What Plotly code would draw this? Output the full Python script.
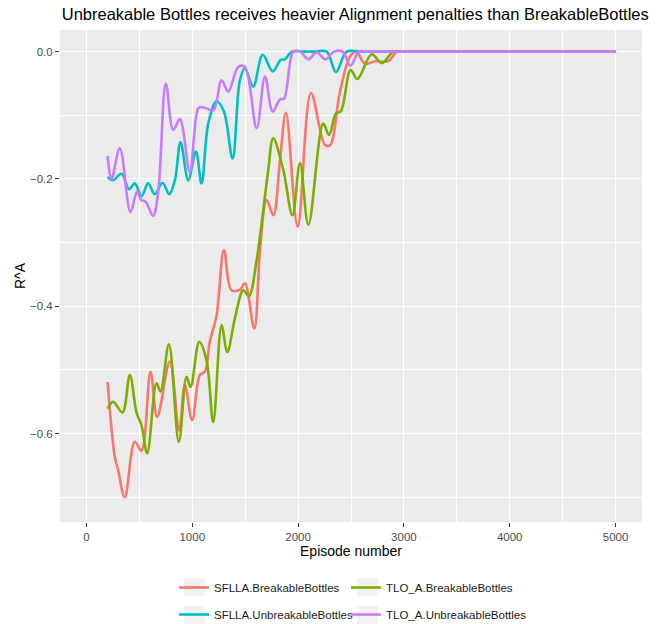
import plotly.graph_objects as go

# ---------------- data ----------------
series_names = [
    "SFLLA.BreakableBottles",
    "SFLLA.UnbreakableBottles",
    "TLO_A.BreakableBottles",
    "TLO_A.UnbreakableBottles",
]

ep_sflla_breakable = [200, 268, 300, 362, 457, 520, 605, 668, 788, 876, 930, 999, 1072, 1119,
                      1166, 1229, 1299, 1371, 1450, 1497, 1586, 1640, 1703, 1766, 1829, 1885,
                      1996, 2122, 2255, 2302, 2396, 2490, 2548, 2633, 2727, 2853, 2932, 3000,
                      3500, 4000, 4500, 5000]
ra_sflla_breakable = [-0.519, -0.637, -0.658, -0.700, -0.613, -0.627, -0.503, -0.574, -0.487,
                      -0.595, -0.524, -0.579, -0.508, -0.503, -0.455, -0.415, -0.312, -0.375,
                      -0.374, -0.364, -0.435, -0.312, -0.233, -0.257, -0.170, -0.096, -0.275,
                      -0.065, -0.147, -0.147, -0.063, -0.008, 0.0, -0.019, -0.015, -0.015, 0.0,
                      0.0, 0.0, 0.0, 0.0, 0.0]

ep_sflla_unbreakable = [200, 252, 330, 403, 457, 520, 583, 646, 719, 782, 836, 889, 962, 1034,
                        1088, 1151, 1229, 1299, 1381, 1450, 1497, 1576, 1665, 1760, 1835, 1876,
                        1939, 2050, 2150, 2270, 2358, 2459, 2600, 3000, 3500, 4000, 4500, 5000]
ra_sflla_unbreakable = [-0.197, -0.202, -0.192, -0.216, -0.207, -0.227, -0.207, -0.224, -0.206,
                        -0.224, -0.202, -0.142, -0.202, -0.157, -0.207, -0.113, -0.078, -0.094,
                        -0.168, -0.045, -0.026, -0.055, -0.005, -0.031, -0.013, -0.012, 0.0,
                        0.0, 0.0, 0.0, -0.032, 0.0, 0.0, 0.0, 0.0, 0.0, 0.0, 0.0]

ep_tlo_breakable = [200, 252, 340, 410, 473, 520, 574, 662, 700, 779, 873, 946, 984, 1066, 1135,
                    1198, 1277, 1331, 1403, 1482, 1535, 1608, 1671, 1718, 1765, 1860, 1946, 2018,
                    2097, 2238, 2292, 2358, 2403, 2497, 2560, 2696, 2791, 2901, 3000, 3500, 4000,
                    4500, 5000]
ra_tlo_breakable = [-0.561, -0.550, -0.567, -0.508, -0.567, -0.587, -0.631, -0.521, -0.534,
                    -0.460, -0.613, -0.511, -0.527, -0.456, -0.485, -0.582, -0.430, -0.472,
                    -0.419, -0.375, -0.384, -0.328, -0.249, -0.186, -0.136, -0.186, -0.257,
                    -0.175, -0.272, -0.113, -0.131, -0.097, -0.094, -0.029, -0.043, -0.004,
                    -0.018, 0.0, 0.0, 0.0, 0.0, 0.0, 0.0]

ep_tlo_unbreakable = [200, 236, 315, 416, 479, 518, 560, 630, 678, 750, 820, 883, 977, 1056,
                      1090, 1128, 1200, 1277, 1340, 1435, 1497, 1608, 1687, 1760, 1829, 1867,
                      1955, 2020, 2097, 2175, 2260, 2340, 2420, 2495, 2575, 2650, 3000, 3500,
                      4000, 4500, 5000]
ra_tlo_unbreakable = [-0.164, -0.200, -0.152, -0.252, -0.220, -0.233, -0.236, -0.258, -0.220,
                      -0.050, -0.123, -0.106, -0.189, -0.089, -0.087, -0.089, -0.092, -0.045,
                      -0.063, -0.024, -0.024, -0.120, -0.039, -0.094, -0.075, -0.074, 0.0,
                      0.0, -0.012, -0.001, -0.012, 0.0, 0.0, -0.022, 0.0, 0.0, 0.0, 0.0,
                      0.0, 0.0, 0.0]

x_tick_vals = [0, 1000, 2000, 3000, 4000, 5000]
x_tick_text = ["0", "1000", "2000", "3000", "4000", "5000"]
y_tick_vals = [0.0, -0.2, -0.4, -0.6]
y_tick_text = ["0.0", "\u22120.2", "\u22120.4", "\u22120.6"]

title_text = "Unbreakable Bottles receives heavier Alignment penalties than BreakableBottles"
x_title = "Episode number"
y_title = "R^A"

# ---------------- styling / layout ----------------
colors = ["#F8766D", "#00BFC4", "#7CAE00", "#C77CFF"]
legend_of = ["legend", "legend", "legend2", "legend2"]
FONT = "Liberation Sans, Arial, Helvetica, sans-serif"

W, H = 662, 624
ML, MR, MT, MB = 60, 20, 30, 102
PW, PH = W - ML - MR, H - MT - MB


def px_x(px):
    return (px - ML) / PW


def px_y(py):
    return (H - MB - py) / PH


xs = [ep_sflla_breakable, ep_sflla_unbreakable, ep_tlo_breakable, ep_tlo_unbreakable]
ys = [ra_sflla_breakable, ra_sflla_unbreakable, ra_tlo_breakable, ra_tlo_unbreakable]

fig = go.Figure()
for name, ex, ey, col, leg in zip(series_names, xs, ys, colors, legend_of):
    fig.add_trace(go.Scatter(
        x=ex, y=ey, mode="lines", name=name, legend=leg, legendgroup=name,
        line=dict(color=col, width=2.6, shape="spline", smoothing=1.0),
        hoverinfo="x+y+name",
    ))

# grey legend key backgrounds (ggplot style)
shapes = []
for kx in (184, 357):
    for ky in (587, 615):
        shapes.append(dict(type="rect", xref="paper", yref="paper",
                           x0=px_x(kx), x1=px_x(kx + 21),
                           y0=px_y(ky + 9), y1=px_y(ky - 9),
                           fillcolor="#F2F2F2", line=dict(width=0), layer="below"))

legend_common = dict(
    orientation="v", xanchor="left", yanchor="top",
    bgcolor="rgba(0,0,0,0)", borderwidth=0,
    font=dict(family=FONT, size=11.5, color="#1A1A1A"),
    tracegroupgap=8,
)

fig.update_layout(
    width=W, height=H,
    margin=dict(l=ML, r=MR, t=MT, b=MB, pad=0, autoexpand=False),
    paper_bgcolor="white",
    plot_bgcolor="#EBEBEB",
    font=dict(family=FONT, color="#000000"),
    title=dict(text=title_text, xref="paper", x=0.003, xanchor="left",
               yref="container", y=1 - 14 / H, yanchor="middle",
               font=dict(family=FONT, size=16.5, color="#000000")),
    xaxis=dict(
        range=[-250, 5250], tickvals=x_tick_vals, ticktext=x_tick_text,
        showgrid=True, gridcolor="white", gridwidth=1.3, zeroline=False,
        showline=False, ticks="outside", ticklen=4, tickwidth=1, tickcolor="#333333",
        tickfont=dict(family=FONT, size=11.5, color="#4D4D4D"),
        minor=dict(dtick=500, tick0=0, showgrid=True, gridcolor="white", gridwidth=0.6, ticks=""),
        title=dict(text=x_title, font=dict(family=FONT, size=14, color="#000000"), standoff=0),
        automargin=False,
    ),
    yaxis=dict(
        range=[-0.739, 0.034], tickvals=y_tick_vals, ticktext=y_tick_text,
        showgrid=True, gridcolor="white", gridwidth=1.3, zeroline=False,
        showline=False, ticks="outside", ticklen=4, tickwidth=1, tickcolor="#333333",
        tickfont=dict(family=FONT, size=11.5, color="#4D4D4D"),
        minor=dict(dtick=0.1, tick0=0, showgrid=True, gridcolor="white", gridwidth=0.6, ticks=""),
        title=dict(text=y_title, font=dict(family=FONT, size=14, color="#000000"), standoff=1),
        automargin=False,
    ),
    legend=dict(x=px_x(174), y=px_y(573), **legend_common),
    legend2=dict(x=px_x(346), y=px_y(573), **legend_common),
    shapes=shapes,
    showlegend=True,
)

fig.write_html("out.html")
